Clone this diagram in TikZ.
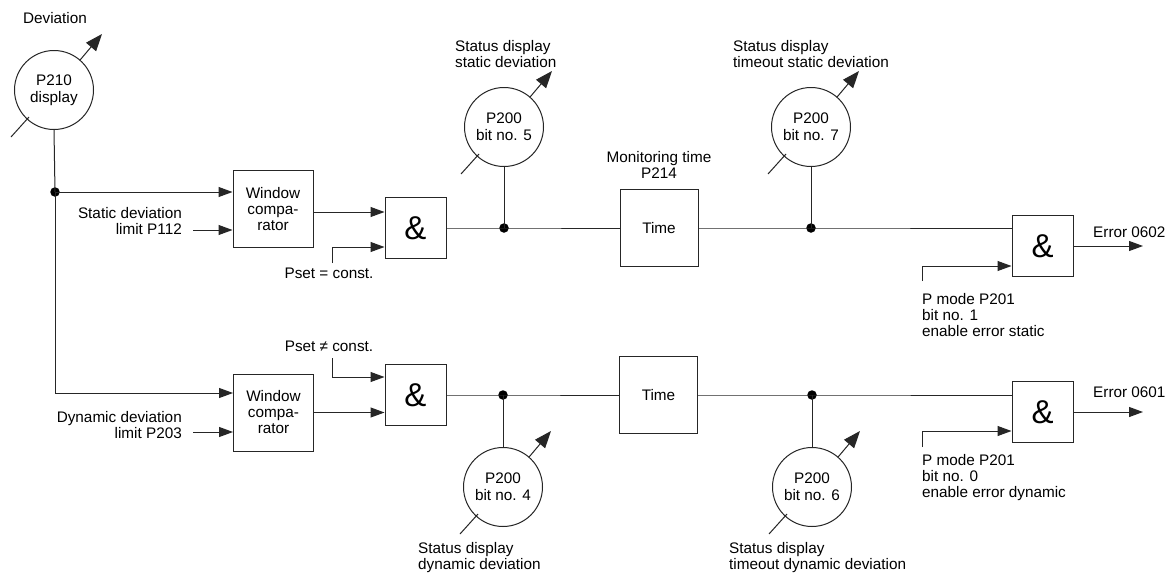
\documentclass[tikz,border=0pt]{standalone}
\usepackage{fontspec}
\setmainfont{Liberation Sans}
\usetikzlibrary{arrows.meta,calc}
\begin{document}
\begin{tikzpicture}[x=1pt,y=-1pt,
  every node/.style={font=\fontsize{15.3}{16}\selectfont, inner sep=0pt, text=black},
  ln/.style={line width=1pt, draw=black!85},
  arr/.style={ln, -{Triangle[length=14pt,width=10pt]}},
  bigarr/.style={ln, -{Triangle[length=17pt,width=13pt]}},
  wcbox/.style={draw=black!85, line width=1pt, minimum width=80pt, minimum height=77pt, align=center},
  andbox/.style={draw=black!85, line width=1pt, minimum width=61pt, minimum height=61pt, font=\fontsize{33}{33}\selectfont},
  timebox/.style={draw=black!85, line width=1pt, minimum width=78pt, minimum height=77pt},
  disp/.style={circle, draw=black!85, line width=1pt, minimum size=79pt, align=center, font=\fontsize{15.3}{17}\selectfont},
  jdot/.style={circle, fill=black, minimum size=9.5pt},
  lbl/.style={align=left}
]
\path[use as bounding box, fill=white] (0,0) rectangle (1171,573);

% display circles
\node[disp] (c210) at (54,90) {P210\\display};
\node[disp] (c5) at (504,127) {P200\\bit no. 5};
\node[disp] (c7) at (811,127) {P200\\bit no. 7};
\node[disp] (c4) at (503,487) {P200\\bit no. 4};
\node[disp] (c6) at (812,487) {P200\\bit no. 6};

% blocks
\node[wcbox] (wc1) at (273,209) {Window\\compa-\\rator};
\node[andbox] (and1) at (415.5,228) {\&};
\node[timebox] (t1) at (659,228) {Time};
\node[andbox] (and3) at (1042.5,246) {\&};
\node[wcbox] (wc2) at (273.5,412.5) {Window\\compa-\\rator};
\node[andbox] (and2) at (415.5,395) {\&};
\node[timebox] (t2) at (658.5,395) {Time};
\node[andbox] (and4) at (1042.5,412) {\&};

% junction dots
\node[jdot] (d0) at (55,192) {};
\node[jdot] (d1) at (504,228) {};
\node[jdot] (d3) at (811,228) {};
\node[jdot] (d2) at (503,395) {};
\node[jdot] (d4) at (812,395) {};

% free ends
\coordinate (lim1) at (193,230);
\coordinate (lim2) at (193,432);
\coordinate (ps1) at (332,263);
\coordinate (ps2) at (332,358);
\coordinate (pm1) at (922,281);
\coordinate (pm2) at (922,447);
\coordinate (err1) at (1143,246);
\coordinate (err2) at (1143,412);

% labels
\node[anchor=base] (devt) at (55,23) {Deviation};
\node[anchor=north east, align=right] (lim1t) at (182,207) {Static deviation\\limit P112};
\node[anchor=north east, align=right] (lim2t) at (182,411) {Dynamic deviation\\limit P203};
\node[anchor=north west, lbl] (s5t) at (455,40) {Status display\\static deviation};
\node[anchor=north west, lbl] (s7t) at (733,40) {Status display\\timeout static deviation};
\node[anchor=north, align=center] (mont) at (659,151) {Monitoring time\\P214};
\node[anchor=north] (ps1t) at (329,268) {Pset = const.};
\node[anchor=north] (ps2t) at (329,341) {Pset ≠ const.};
\node[anchor=north west, lbl] (pm1t) at (922,293) {P mode P201\\bit no. 1\\enable error static};
\node[anchor=north west, lbl] (pm2t) at (922,454) {P mode P201\\bit no. 0\\enable error dynamic};
\node[anchor=north west] (e1t) at (1093,227) {Error 0602};
\node[anchor=north west] (e2t) at (1093,387) {Error 0601};
\node[anchor=north west, lbl] (s4t) at (418,542) {Status display\\dynamic deviation};
\node[anchor=north west, lbl] (s6t) at (729,542) {Status display\\timeout dynamic deviation};

% display indicator arrows
\foreach \c in {c210,c5,c7,c4,c6}{
  \draw[bigarr] (\c.49) -- ($(\c.center)+(48,-56)$);
  \draw[ln] ($(\c.center)+(-43,47)$) -- ($(\c.center)+(-25,27)$);
}

% row 1
\draw[ln] (c210.south) -- (d0.center);
\draw[arr] (d0.center) -- ([yshift=17pt]wc1.west);
\draw[arr] (lim1) -- ([yshift=-21pt]wc1.west);
\draw[arr] ([yshift=-3pt]wc1.east) -- ([yshift=16pt]and1.west);
\draw[arr] (ps1) |- ([yshift=-19pt]and1.west);
\draw[ln] (and1.east) -- (d1.center) -- (t1.west);
\draw[ln] (d1.center) -- (c5.south);
\draw[ln] (t1.east) -- (d3.center) -- ([yshift=18pt]and3.west);
\draw[ln] (d3.center) -- (c7.south);
\draw[arr] (pm1) |- ([yshift=-20pt]and3.west);
\draw[arr] (and3.east) -- (err1);

% row 2
\draw[arr] (d0.center) |- ([yshift=19.5pt]wc2.west);
\draw[arr] (lim2) -- ([yshift=-19.5pt]wc2.west);
\draw[arr] (wc2.east) -- ([yshift=-17.5pt]and2.west);
\draw[arr] (ps2) |- ([yshift=18pt]and2.west);
\draw[ln] (and2.east) -- (d2.center) -- (t2.west);
\draw[ln] (d2.center) -- (c4.north);
\draw[ln] (t2.east) -- (d4.center) -- ([yshift=17pt]and4.west);
\draw[ln] (d4.center) -- (c6.north);
\draw[arr] (pm2) |- ([yshift=-19pt]and4.west);
\draw[arr] (and4.east) -- (err2);
\end{tikzpicture}
\end{document}
